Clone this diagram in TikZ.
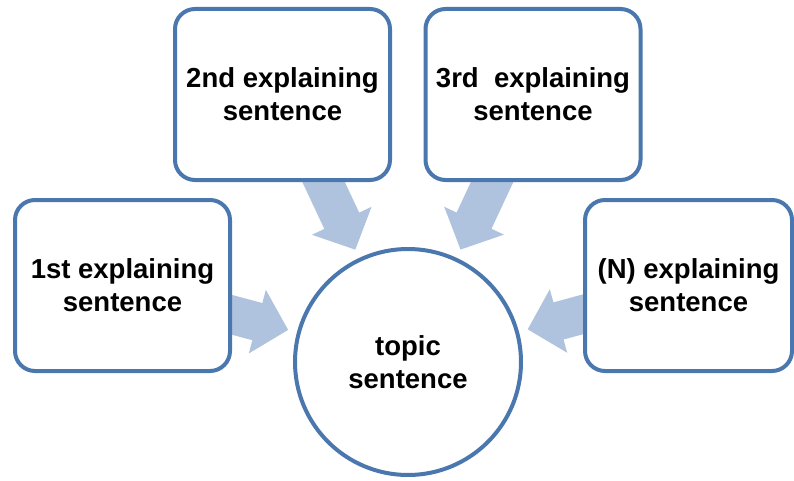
\documentclass[tikz,border=0pt]{standalone}
\usepackage{fontspec}
\setmainfont{Liberation Sans}
\usetikzlibrary{arrows.meta,backgrounds}
\definecolor{bordblue}{RGB}{74,120,174}
\definecolor{arrblue}{RGB}{176,195,222}
\begin{document}
\begin{tikzpicture}[x=1pt,y=1pt,
  txt/.style={font=\bfseries\fontsize{27.5}{33}\selectfont, align=center, text=black},
  sbox/.style={txt, draw=bordblue, line width=4pt, fill=white, rounded corners=20pt,
    minimum width=215pt, minimum height=171pt, inner sep=0pt},
  topicnode/.style={txt, circle, draw=bordblue, line width=4pt, fill=white,
    minimum size=226pt, inner sep=0pt},
  blockarrow/.style={draw=arrblue, line width=38.5pt,
    -{Triangle[length=32pt,width=64pt,fill=arrblue,color=arrblue]}, shorten >=124pt}
]
\useasboundingbox (0,0) rectangle (794,480);
\node[topicnode] (c) at (408,118) {topic\\sentence};
\node[sbox] (b1) at (122.5,194.5) {1st explaining\\sentence};
\node[sbox] (b2) at (282.5,385.5) {2nd explaining\\sentence};
\node[sbox] (b3) at (533,385.5) {3rd\ \ explaining\\sentence};
\node[sbox, minimum width=207pt] (b4) at (688.5,194.5) {(N) explaining\\sentence};
\begin{scope}[on background layer]
\draw[blockarrow] (b1.center) -- (c.center);
\draw[blockarrow] (b2.center) -- (c.center);
\draw[blockarrow] (b3.center) -- (c.center);
\draw[blockarrow] (b4.center) -- (c.center);
\end{scope}
\end{tikzpicture}
\end{document}
